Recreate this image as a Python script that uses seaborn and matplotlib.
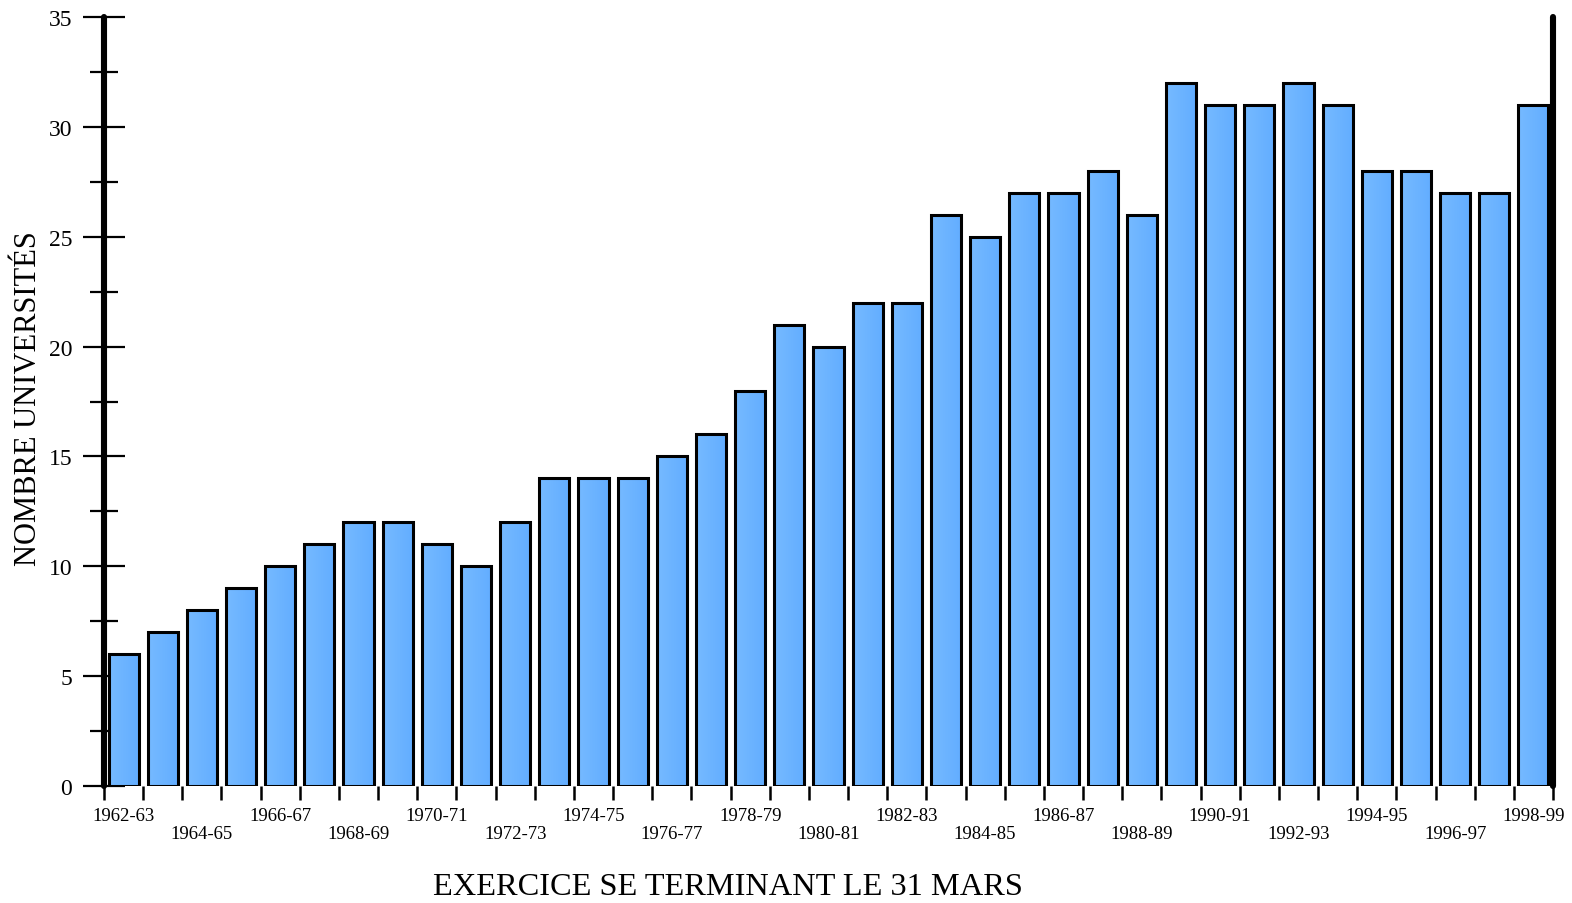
import matplotlib
matplotlib.use("Agg")
import matplotlib.pyplot as plt
import seaborn as sns
import pandas as pd
import numpy as np
from matplotlib.ticker import FixedLocator, MultipleLocator
from matplotlib.colors import LinearSegmentedColormap

years = [f"{y}-{str(y + 1)[-2:]}" for y in range(1962, 1999)]
values = [6, 7, 8, 9, 10, 11, 12, 12, 11, 10, 12, 14, 14, 14, 15, 16, 18, 21, 20,
          22, 22, 26, 25, 27, 27, 28, 26, 32, 31, 31, 32, 31, 28, 28, 27, 27, 31]
y_label = "NOMBRE UNIVERSITÉS"
x_label = "EXERCICE SE TERMINANT LE 31 MARS"

df = pd.DataFrame({"exercice": years, "n": values})

sns.set_theme(style="white")
plt.rcParams["font.family"] = ["Liberation Serif", "DejaVu Serif"]

fig = plt.figure(figsize=(15.72, 9.04), dpi=100)
ax = fig.add_axes([104 / 1572, 1 - 787 / 904, (1553 - 104) / 1572, (787 - 18) / 904])

sns.barplot(data=df, x="exercice", y="n", color="#68b2ff", saturation=1,
            width=0.77, edgecolor="black", linewidth=2.2, ax=ax)

ax.set_xlim(-0.5, len(years) - 0.5)
ax.set_ylim(0, 35)

# subtle horizontal gradient inside each bar
grad_cmap = LinearSegmentedColormap.from_list("g", ["#76baff", "#62adff"])
grad = np.linspace(0, 1, 64).reshape(1, -1)
for p in list(ax.patches):
    x0, w, h = p.get_x(), p.get_width(), p.get_height()
    im = ax.imshow(grad, cmap=grad_cmap, extent=[x0, x0 + w, 0, h], aspect="auto",
                   origin="lower", zorder=p.get_zorder() - 0.01, interpolation="bilinear")
    im.set_clip_path(p)
    p.set_facecolor("none")
ax.set_xlim(-0.5, len(years) - 0.5)
ax.set_ylim(0, 35)
ax.set_aspect("auto")

# spines
for s in ["top", "bottom"]:
    ax.spines[s].set_visible(False)
for s in ["left", "right"]:
    ax.spines[s].set_visible(True)
    ax.spines[s].set_linewidth(4.4)
    ax.spines[s].set_color("black")
    ax.spines[s].set_capstyle("round")

# y ticks
ax.yaxis.set_major_locator(MultipleLocator(5))
ax.yaxis.set_minor_locator(MultipleLocator(2.5))
ax.tick_params(axis="y", which="major", direction="inout", length=30, width=1.6,
               color="black", labelsize=17, pad=8, left=True, right=False)
ax.tick_params(axis="y", which="minor", direction="inout", length=20, width=1.6,
               color="black", left=True, right=False)

# x ticks: labels every other bar in alternating rows, boundary ticks
pos = list(range(0, len(years), 2))
ax.xaxis.set_major_locator(FixedLocator(pos))
ax.set_xticklabels([years[i] for i in pos])
ax.xaxis.set_minor_locator(FixedLocator(np.arange(-0.5, len(years), 1.0)))
ax.tick_params(axis="x", which="major", length=0, labelsize=13.5, pad=15)
ax.tick_params(axis="x", which="minor", direction="out", length=10, width=1.8,
               color="black", bottom=True)
for k, t in enumerate(ax.xaxis.get_major_ticks()):
    if k % 2 == 1:
        t.set_pad(28)

ax.set_xlabel("")
ax.set_ylabel(y_label, fontsize=22, color="black")
ax.yaxis.set_label_coords(-0.042, 0.505)
for lab in ax.get_xticklabels() + ax.get_yticklabels():
    lab.set_color("black")

fig.text(728 / 1572, 1 - 888 / 904, x_label, fontsize=23.3, ha="center", va="center",
         color="black")

fig.savefig("out.png", dpi=100)
